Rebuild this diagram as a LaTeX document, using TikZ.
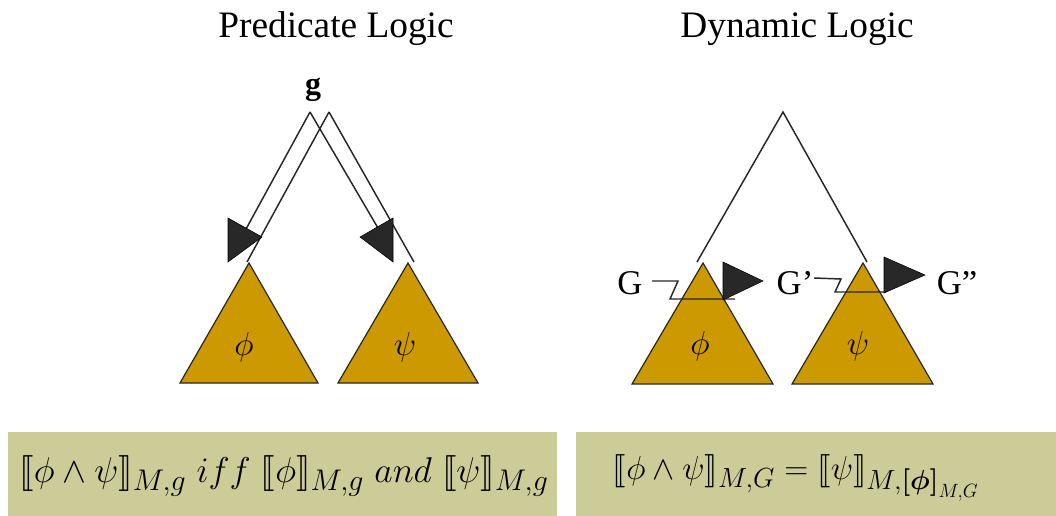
\documentclass[tikz,border=0pt]{standalone}
\usepackage{amsmath,amssymb}
\usepackage{stmaryrd}
\usepackage{fontspec}
\setmainfont{Liberation Serif}
\usepackage{tikz}
\usetikzlibrary{positioning,calc}
\definecolor{treeGold}{RGB}{204,153,0}
\definecolor{ruleKhaki}{RGB}{204,204,153}
\definecolor{headGray}{RGB}{40,40,40}

\begin{document}
\begin{tikzpicture}[x=0.75pt,y=-0.75pt,
    tree/.style={draw=black!85,fill=treeGold,line width=0.9pt,line join=miter},
    edge/.style={draw=black!85,line width=1.1pt},
    head/.style={fill=headGray},
    title/.style={font=\fontsize{28}{32}\selectfont},
    state/.style={font=\fontsize{26}{30}\selectfont,inner sep=0pt}]
\useasboundingbox (0,0) rectangle (1056,516);

% titles
\node[title] (predTitle) at (336,29) {Predicate Logic};
\node[title] (dynTitle) at (797,29) {Dynamic Logic};

% predicate logic
\node[inner sep=0pt] (g) at (313,90) {\fontsize{24}{28}\selectfont\bfseries g};
\coordinate (gA) at (310,112);
\coordinate (gB) at (329,112);
\draw[tree] (249,263) -- (318,383) -- (180,383) -- cycle;
\draw[tree] (408,263) -- (478,383) -- (338,383) -- cycle;
\node (predPhi) at (244,347) {\fontsize{24}{28}\selectfont $\phi$};
\node (predPsi) at (405,347) {\fontsize{24}{28}\selectfont $\psi$};
\draw[edge] (gA) -- (240,240);
\draw[edge] (gB) -- (247,262);
\draw[edge] (gA) -- (385,240);
\draw[edge] (gB) -- (414,262);
\draw[head] (228,218) -- (262,237) -- (228,262) -- cycle;
\draw[head] (393,218) -- (360,237) -- (393,262) -- cycle;

% dynamic logic
\draw[edge] (697,262) -- (783,112) -- (867,262);
\draw[tree] (703,263) -- (773,384) -- (632,384) -- cycle;
\draw[tree] (863,263) -- (933,384) -- (792,384) -- cycle;
\node (dynPhi) at (700,346) {\fontsize{24}{28}\selectfont $\phi$};
\node (dynPsi) at (858,346) {\fontsize{24}{28}\selectfont $\psi$};
\node[state] (G) at (630,283) {G};
\node[state] (G1) at (795,283) {G'};
\node[state] (G2) at (957,283) {G''};
\draw[edge] (652,281) -- (678,281) -- (670,299) -- (735,299);
\draw[head] (723,262) -- (763,281) -- (723,300) -- cycle;
\draw[edge] (814,278) -- (841,279) -- (835,292) -- (886,292);
\draw[head] (884,257) -- (925,275) -- (884,293) -- cycle;

% rules
\draw[fill=ruleKhaki,draw=none] (8,432) rectangle (557,516);
\draw[fill=ruleKhaki,draw=none] (576,432) rectangle (1056,516);
\node[scale=1.08,transform shape] (predRule) at (284,476) {\fontsize{28}{32}\selectfont
  $\llbracket\phi\wedge\psi\rrbracket_{M,g}\ \mathnormal{iff}\ \llbracket\phi\rrbracket_{M,g}\ \mathnormal{and}\ \llbracket\psi\rrbracket_{M,g}$};
\node (dynRule) at (796,478) {\fontsize{28}{32}\selectfont
  $\llbracket\phi\wedge\psi\rrbracket_{M,G}=\llbracket\psi\rrbracket_{M,\boldsymbol{[\phi]}_{M,G}}$};
\end{tikzpicture}
\end{document}
